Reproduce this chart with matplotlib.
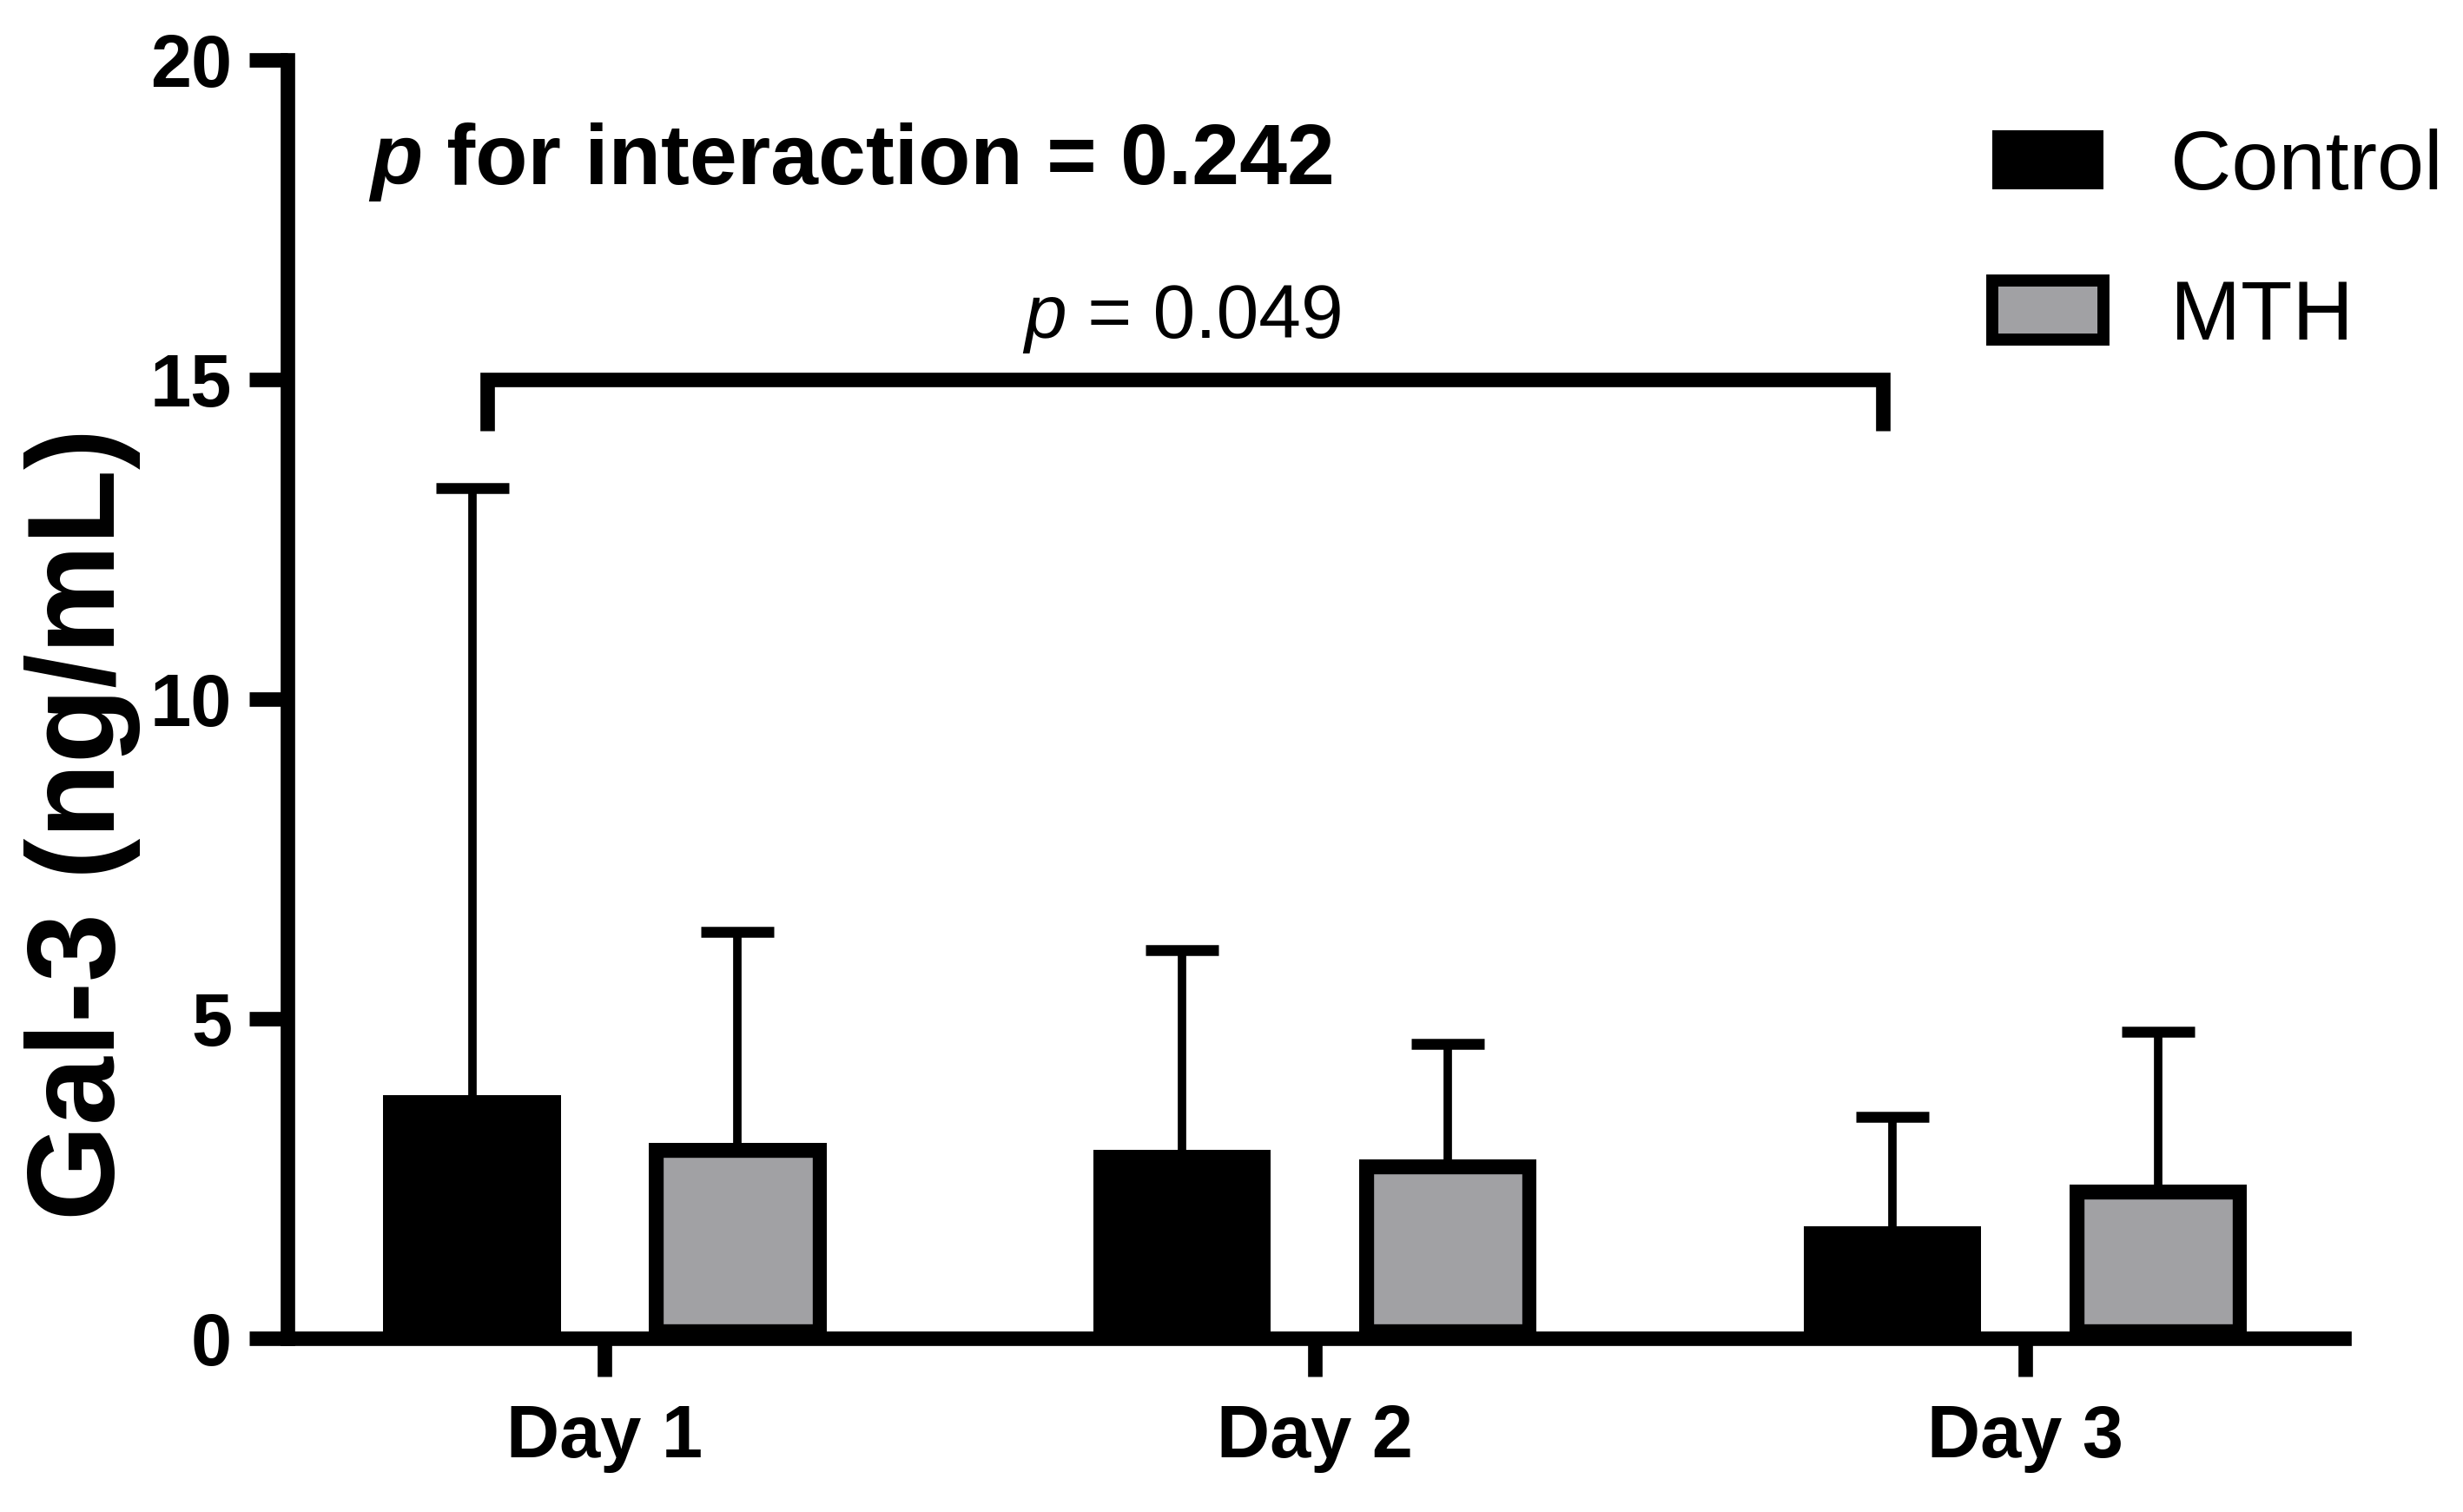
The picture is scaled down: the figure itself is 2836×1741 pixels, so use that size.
import numpy as np
import matplotlib
matplotlib.use('Agg')
import matplotlib.pyplot as plt
from matplotlib.patches import Patch

plt.rcParams['font.family'] = ['Liberation Sans', 'DejaVu Sans']

# data
days = ['Day 1', 'Day 2', 'Day 3']
control_mean = [3.8, 2.95, 1.75]
control_upper = [13.3, 6.07, 3.47]
mth_mean = [3.05, 2.8, 2.4]
mth_upper = [6.36, 4.61, 4.8]
yticks = [0, 5, 10, 15, 20]
p_interaction = '0.242'
p_day1_day3 = '0.049'

control_err = np.array(control_upper) - np.array(control_mean)
mth_err = np.array(mth_upper) - np.array(mth_mean)

gray = '#a1a1a4'
lw = 12

fig = plt.figure(figsize=(28.36, 17.41), dpi=100)
ax = fig.add_axes([0.1167, 0.1149, 0.9517 - 0.1167, 0.9604 - 0.1149])

x = np.arange(len(days))
w = 0.25
off = 0.187

ax.bar(x - off, control_mean, w, color='black', zorder=2)
mth_bars = ax.bar(x + off, mth_mean, w, color=gray, edgecolor='black',
                  linewidth=2 * lw, zorder=2)
# keep the outline inside the bar
for b in mth_bars:
    b.set_clip_path(b)

for xs, means, errs in [(x - off, control_mean, control_err),
                        (x + off, mth_mean, mth_err)]:
    eb = ax.errorbar(xs, means, yerr=[np.zeros(len(errs)), errs], fmt='none',
                     ecolor='black', elinewidth=7, capsize=30, capthick=9,
                     zorder=1)
    eb[1][0].set_visible(False)  # no lower caps

# significance bracket Day 1 vs Day 3 (control)
bx0, bx1 = -0.166, 1.80
ax.plot([bx0, bx0, bx1, bx1], [14.2, 15, 15, 14.2], color='black', lw=lw,
        solid_joinstyle='miter', solid_capstyle='butt', clip_on=False)
t = ax.text(0.59, 15.65, 'p', style='italic', fontsize=63,
            ha='left', va='baseline')
ax.annotate(' = ' + p_day1_day3, xycoords=t, xy=(1, 0), va='bottom',
            fontsize=63)

t2 = ax.text(-0.33, 18.05, 'p', style='italic', fontweight='bold',
             fontsize=71, va='baseline')
ax.annotate(' for interaction = ' + p_interaction, xycoords=t2, xy=(1, 0),
            va='bottom', fontsize=71, fontweight='bold')

ax.set_xlim(-0.447, 2.449)
ax.set_ylim(0, 20)
ax.set_xticks(x)
ax.set_xticklabels(days)
ax.set_yticks(yticks)

for s in ['top', 'right']:
    ax.spines[s].set_visible(False)
for s in ['left', 'bottom']:
    ax.spines[s].set_linewidth(lw)
    ax.spines[s].set_capstyle('projecting')

ax.tick_params(axis='both', width=lw, length=32, labelsize=61)
ax.tick_params(axis='y', pad=14)
ax.tick_params(axis='x', pad=22)
for lab in ax.get_xticklabels() + ax.get_yticklabels():
    lab.set_fontweight('bold')

fig.text(0.0335, 0.455, 'Gal-3 (ng/mL)', rotation=90, fontsize=102,
         fontweight='bold', ha='center', va='center')

handles = [Patch(facecolor='black', edgecolor='black', linewidth=0),
           Patch(facecolor=gray, edgecolor='black', linewidth=10)]
fig.legend(handles, ['Control', 'MTH'], loc='upper left',
           bbox_to_anchor=(0.809, 0.915), frameon=False, fontsize=70,
           handlelength=1.31, handleheight=0.7, handletextpad=0.8,
           labelspacing=0.85, borderpad=0, borderaxespad=0)

fig.savefig('out.png', dpi=100)
